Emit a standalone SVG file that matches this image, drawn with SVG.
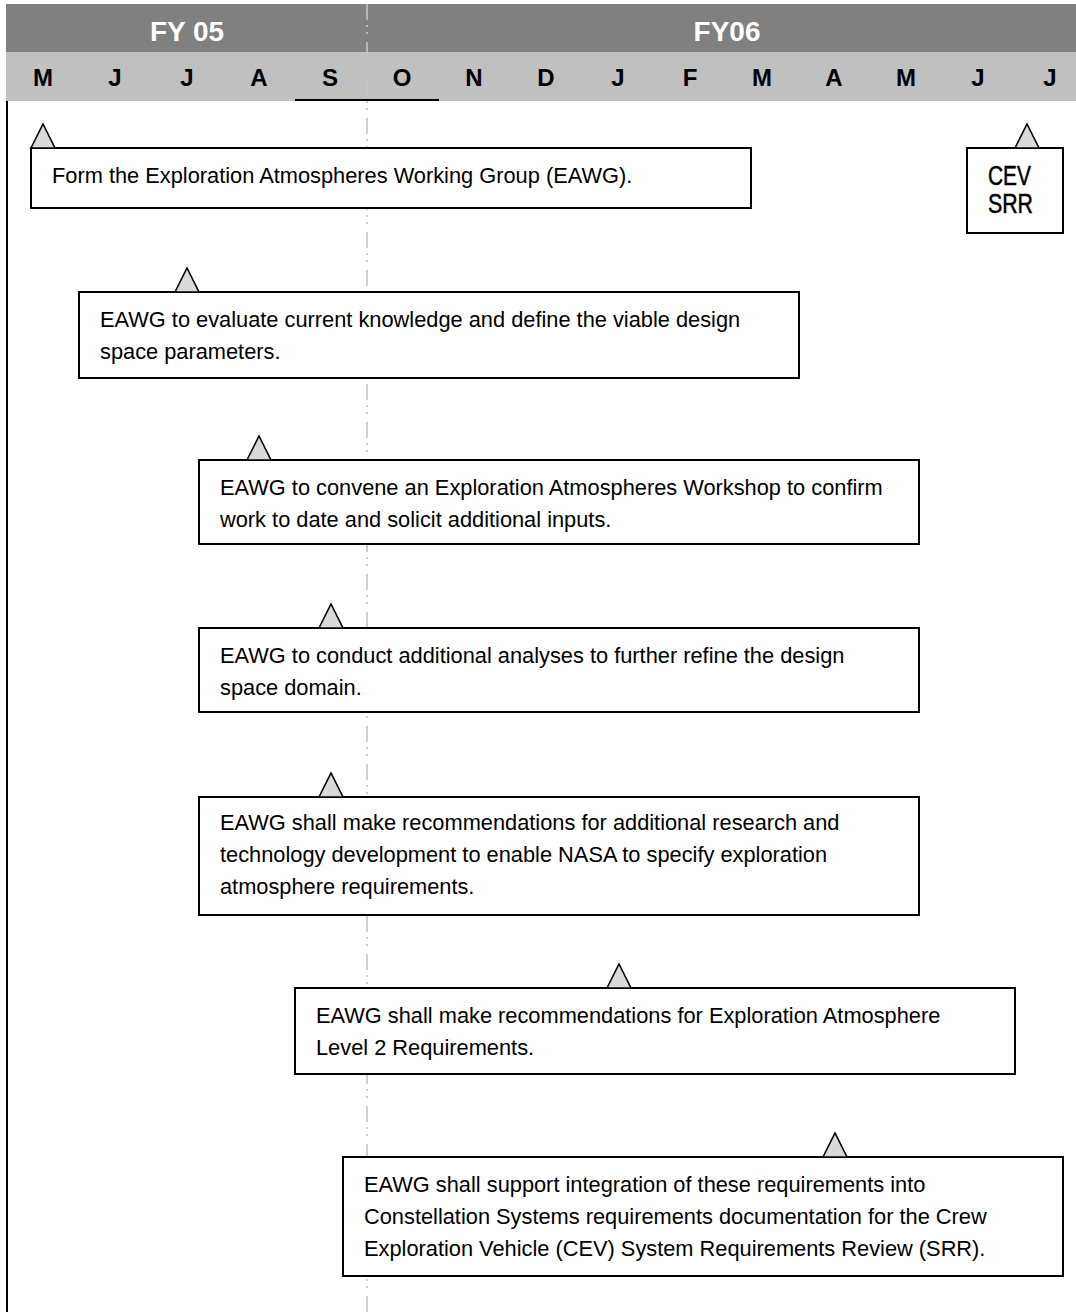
<svg xmlns="http://www.w3.org/2000/svg" width="1076" height="1312" viewBox="0 0 1076 1312">
  <style>
    .yr { font-family: "Liberation Sans", Arial, sans-serif; font-weight: bold; font-size: 28px; fill: #ffffff; text-anchor: middle; }
    .mo { font-family: "Liberation Sans", Arial, sans-serif; font-weight: bold; font-size: 24px; fill: #000000; text-anchor: middle; }
    .box { fill: #ffffff; stroke: #000000; stroke-width: 2; }
    .tri { fill: #d9d9d9; stroke: #000000; stroke-width: 1.6; stroke-linejoin: miter; }
    .txt { font-family: "Liberation Sans", Arial, sans-serif; font-size: 21.8px; fill: #000000; }
    .ms { font-family: "Liberation Sans", Arial, sans-serif; font-size: 27px; fill: #000000; stroke: #000000; stroke-width: 0.5; }
  </style>

  <!-- timeline header: fiscal years and months -->
  <g id="timeline-header">
    <rect x="6" y="4" width="1070" height="48" fill="#808080"/>
    <rect x="6" y="52" width="1070" height="49" fill="#c0c0c0"/>
    <text class="yr" x="187" y="41">FY 05</text>
    <text class="yr" x="727" y="41">FY06</text>
    <text class="mo" x="43" y="86">M</text>
    <text class="mo" x="115" y="86">J</text>
    <text class="mo" x="187" y="86">J</text>
    <text class="mo" x="259" y="86">A</text>
    <text class="mo" x="330" y="86">S</text>
    <text class="mo" x="402" y="86">O</text>
    <text class="mo" x="474" y="86">N</text>
    <text class="mo" x="546" y="86">D</text>
    <text class="mo" x="618" y="86">J</text>
    <text class="mo" x="690" y="86">F</text>
    <text class="mo" x="762" y="86">M</text>
    <text class="mo" x="834" y="86">A</text>
    <text class="mo" x="906" y="86">M</text>
    <text class="mo" x="978" y="86">J</text>
    <text class="mo" x="1050" y="86">J</text>
    <line x1="295" y1="100" x2="439" y2="100" stroke="#000000" stroke-width="2"/>
  </g>

  <!-- left frame edge and fiscal-year boundary -->
  <g id="frame">
    <line x1="7" y1="101" x2="7" y2="1312" stroke="#000000" stroke-width="2"/>
    <line x1="367" y1="4" x2="367" y2="1312" stroke="#c4c4c4" stroke-width="1.6" stroke-dasharray="16 5 2 5 2 8"/>
  </g>

  <!-- milestone tasks -->
  <g id="task-form-eawg">
    <rect class="box" x="31" y="148" width="720" height="60"/>
    <polygon class="tri" points="31,148 43,124 55,148"/>
    <text class="txt" x="52" y="183">Form the Exploration Atmospheres Working Group (EAWG).</text>
  </g>

  <g id="task-evaluate">
    <rect class="box" x="79" y="292" width="720" height="86"/>
    <polygon class="tri" points="175,292 187,268 199,292"/>
    <text class="txt" x="100" y="327">EAWG to evaluate current knowledge and define the viable design</text>
    <text class="txt" x="100" y="359">space parameters.</text>
  </g>

  <g id="task-workshop">
    <rect class="box" x="199" y="460" width="720" height="84"/>
    <polygon class="tri" points="247,460 259,436 271,460"/>
    <text class="txt" x="220" y="495">EAWG to convene an Exploration Atmospheres Workshop to confirm</text>
    <text class="txt" x="220" y="527">work to date and solicit additional inputs.</text>
  </g>

  <g id="task-analyses">
    <rect class="box" x="199" y="628" width="720" height="84"/>
    <polygon class="tri" points="319,628 331,604 343,628"/>
    <text class="txt" x="220" y="663">EAWG to conduct additional analyses to further refine the design</text>
    <text class="txt" x="220" y="695">space domain.</text>
  </g>

  <g id="task-research">
    <rect class="box" x="199" y="797" width="720" height="118"/>
    <polygon class="tri" points="319,797 331,773 343,797"/>
    <text class="txt" x="220" y="830">EAWG shall make recommendations for additional research and</text>
    <text class="txt" x="220" y="862">technology development to enable NASA to specify exploration</text>
    <text class="txt" x="220" y="894">atmosphere requirements.</text>
  </g>

  <g id="task-level2">
    <rect class="box" x="295" y="988" width="720" height="86"/>
    <polygon class="tri" points="607,988 619,964 631,988"/>
    <text class="txt" x="316" y="1023">EAWG shall make recommendations for Exploration Atmosphere</text>
    <text class="txt" x="316" y="1055">Level 2 Requirements.</text>
  </g>

  <g id="task-integration">
    <rect class="box" x="343" y="1157" width="720" height="119"/>
    <polygon class="tri" points="823,1157 835,1133 847,1157"/>
    <text class="txt" x="364" y="1192">EAWG shall support integration of these requirements into</text>
    <text class="txt" x="364" y="1224">Constellation Systems requirements documentation for the Crew</text>
    <text class="txt" x="364" y="1256">Exploration Vehicle (CEV) System Requirements Review (SRR).</text>
  </g>

  <g id="milestone-cev-srr">
    <rect class="box" x="967" y="148" width="96" height="85"/>
    <polygon class="tri" points="1015,148 1027,124 1039,148"/>
    <text class="ms" x="988" y="185" textLength="43" lengthAdjust="spacingAndGlyphs">CEV</text>
    <text class="ms" x="988" y="213" textLength="45" lengthAdjust="spacingAndGlyphs">SRR</text>
  </g>
</svg>
